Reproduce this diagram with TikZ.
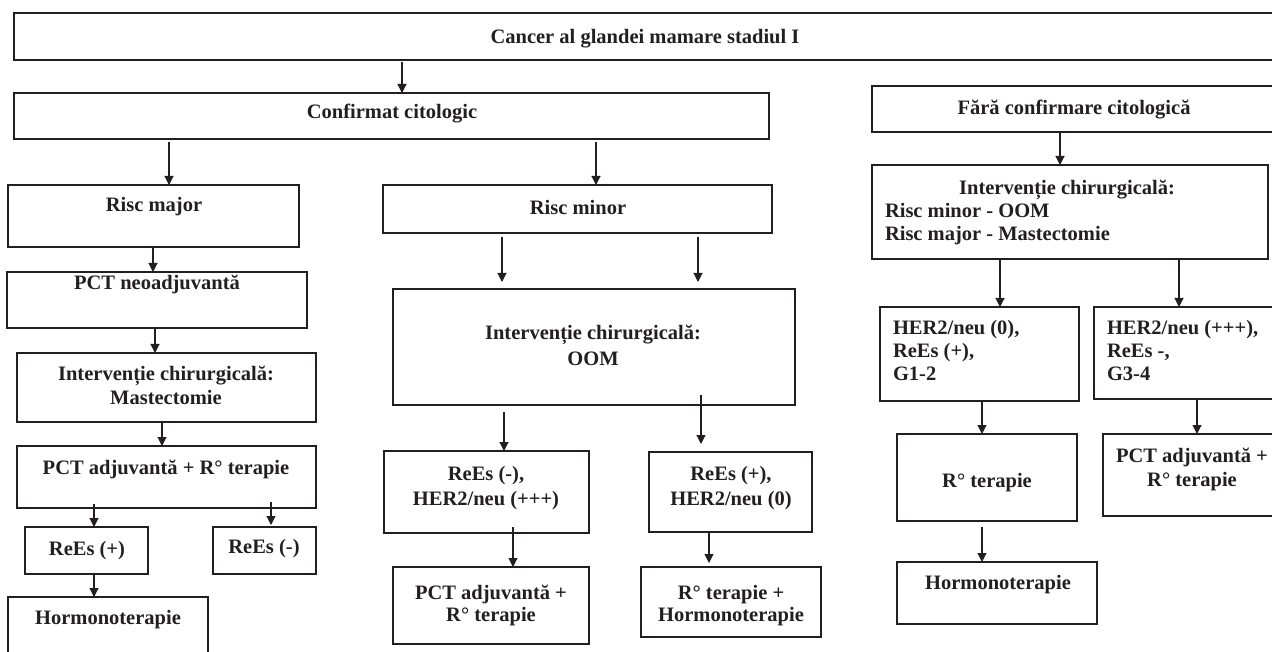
\documentclass[tikz,border=0pt]{standalone}
\usepackage{fontspec}
\setmainfont{Liberation Serif}
\usetikzlibrary{arrows.meta}
\definecolor{ink}{HTML}{231F20}
\tikzset{
  box/.style={draw=ink, line width=1.4pt, rectangle, inner sep=0pt, outer sep=0pt},
  txt/.style={inner sep=0pt, outer sep=0pt, text=ink, font=\fontsize{20.5}{24}\selectfont\bfseries},
  arr/.style={draw=ink, line width=1.1pt, -{Triangle[length=9pt,width=9pt]}}
}
\newcommand{\bx}[5]{\node[box, minimum width={(#4-#2)*1pt}, minimum height={(#5-#3)*1pt}] (#1) at ({(#2+#4)/2},{(#3+#5)/2}) {};}
\newcommand{\tc}[4]{\node[txt, anchor=base] (#1) at (#2,{#3+7}) {#4};}
\newcommand{\tw}[4]{\node[txt, anchor=base west] (#1) at (#2,{#3+7}) {#4};}
\begin{document}
\begin{tikzpicture}[x=1pt,y=-1pt]
\useasboundingbox (0,0) rectangle (1272,652);
\clip (0,0) rectangle (1272,652);
\fill[white] (0,0) rectangle (1272,652);
% boxes
\bx{top}{14}{13}{1285}{60}
\bx{conf}{14}{93}{769}{139}
\bx{fara}{872}{86}{1285}{132}
\bx{intr}{872}{165}{1268}{259}
\bx{her0}{880}{307}{1079}{401}
\bx{her3}{1094}{307}{1285}{399}
\bx{rtr}{897}{434}{1077}{521}
\bx{hor3}{897}{562}{1097}{624}
\bx{pctr}{1103}{434}{1285}{516}
\bx{rmaj}{8}{185}{299}{247}
\bx{pneo}{7}{272}{307}{328}
\bx{mast}{17}{353}{316}{422}
\bx{pcta}{17}{446}{316}{508}
\bx{reep}{25}{527}{148}{574}
\bx{reem}{213}{527}{316}{574}
\bx{hor1}{8}{597}{208}{670}
\bx{rmin}{383}{185}{772}{233}
\bx{oom}{393}{289}{795}{405}
\bx{rmh}{384}{451}{589}{533}
\bx{rph}{649}{452}{812}{532}
\bx{pctm}{393}{567}{589}{644}
\bx{rth}{641}{567}{821}{637}
% texts
\tc{ttop}{645}{37}{Cancer al glandei mamare stadiul I}
\tc{tconf}{392}{112}{Confirmat citologic}
\tc{tfara}{1074}{108}{Fără confirmare citologică}
\tc{tintr}{1067}{188}{Intervenție chirurgicală:}
\tw{tintrb}{885}{211}{Risc minor - OOM}
\tw{tintrc}{885}{234}{Risc major - Mastectomie}
\tw{ther0a}{893}{328}{HER2/neu (0),}
\tw{ther0b}{893}{351}{ReEs (+),}
\tw{ther0c}{893}{374}{G1-2}
\tw{ther3a}{1107}{328}{HER2/neu (+++),}
\tw{ther3b}{1107}{351}{ReEs -,}
\tw{ther3c}{1107}{374}{G3-4}
\tc{trtr}{987}{480}{R° terapie}
\tc{thor3}{998}{582}{Hormonoterapie}
\tc{tpctra}{1192}{455}{PCT adjuvantă +}
\tc{tpctrb}{1192}{479}{R° terapie}
\tc{trmaj}{154}{205}{Risc major}
\tc{tpneo}{157}{283}{PCT neoadjuvantă}
\tc{tmasta}{166}{373}{Intervenție chirurgicală:}
\tc{tmastb}{166}{397}{Mastectomie}
\tc{tpcta}{166}{467}{PCT adjuvantă + R° terapie}
\tc{treep}{87}{548}{ReEs (+)}
\tc{treem}{264}{546}{ReEs (-)}
\tc{thor1}{108}{617}{Hormonoterapie}
\tc{trmin}{578}{208}{Risc minor}
\tc{tooma}{593}{333}{Intervenție chirurgicală:}
\tc{toomb}{593}{358}{OOM}
\tc{trmha}{486}{473}{ReEs (-),}
\tc{trmhb}{486}{498}{HER2/neu (+++)}
\tc{trpha}{731}{473}{ReEs (+),}
\tc{trphb}{731}{498}{HER2/neu (0)}
\tc{tpctma}{491}{592}{PCT adjuvantă +}
\tc{tpctmb}{491}{614}{R° terapie}
\tc{trtha}{731}{592}{R° terapie +}
\tc{trthb}{731}{614}{Hormonoterapie}
% arrows
\draw[arr, shorten <=2pt] (top.south -| 402,0) -- (conf.north -| 402,0);
\draw[arr] (fara.south -| 1060,0) -- (intr.north -| 1060,0);
\draw[arr] (intr.south -| 1000,0) -- (her0.north -| 1000,0);
\draw[arr] (intr.south -| 1179,0) -- (her3.north -| 1179,0);
\draw[arr] (her0.south -| 982,0) -- (rtr.north -| 982,0);
\draw[arr, shorten <=6pt] (rtr.south -| 982,0) -- (hor3.north -| 982,0);
\draw[arr] (her3.south -| 1197,0) -- (pctr.north -| 1197,0);
\draw[arr, shorten <=3pt] (conf.south -| 169,0) -- (rmaj.north -| 169,0);
\draw[arr] (rmaj.south -| 153,0) -- (pneo.north -| 153,0);
\draw[arr] (pneo.south -| 155,0) -- (mast.north -| 155,0);
\draw[arr] (mast.south -| 162,0) -- (pcta.north -| 162,0);
\draw[arr, shorten <=-4pt] (pcta.south -| 94,0) -- (reep.north -| 94,0);
\draw[arr, shorten <=-6pt, shorten >=2pt] (pcta.south -| 271,0) -- (reem.north -| 271,0);
\draw[arr] (reep.south -| 94,0) -- (hor1.north -| 94,0);
\draw[arr, shorten <=3pt] (conf.south -| 596,0) -- (rmin.north -| 596,0);
\draw[arr, shorten <=4pt, shorten >=7pt] (rmin.south -| 502,0) -- (oom.north -| 502,0);
\draw[arr, shorten <=4pt, shorten >=7pt] (rmin.south -| 698,0) -- (oom.north -| 698,0);
\draw[arr, shorten <=7pt] (oom.south -| 504,0) -- (rmh.north -| 504,0);
\draw[arr, shorten <=-10pt, shorten >=8pt] (oom.south -| 701,0) -- (rph.north -| 701,0);
\draw[arr, shorten <=-6pt] (rmh.south -| 513,0) -- (pctm.north -| 513,0);
\draw[arr, shorten >=4pt] (rph.south -| 709,0) -- (rth.north -| 709,0);
\end{tikzpicture}
\end{document}
